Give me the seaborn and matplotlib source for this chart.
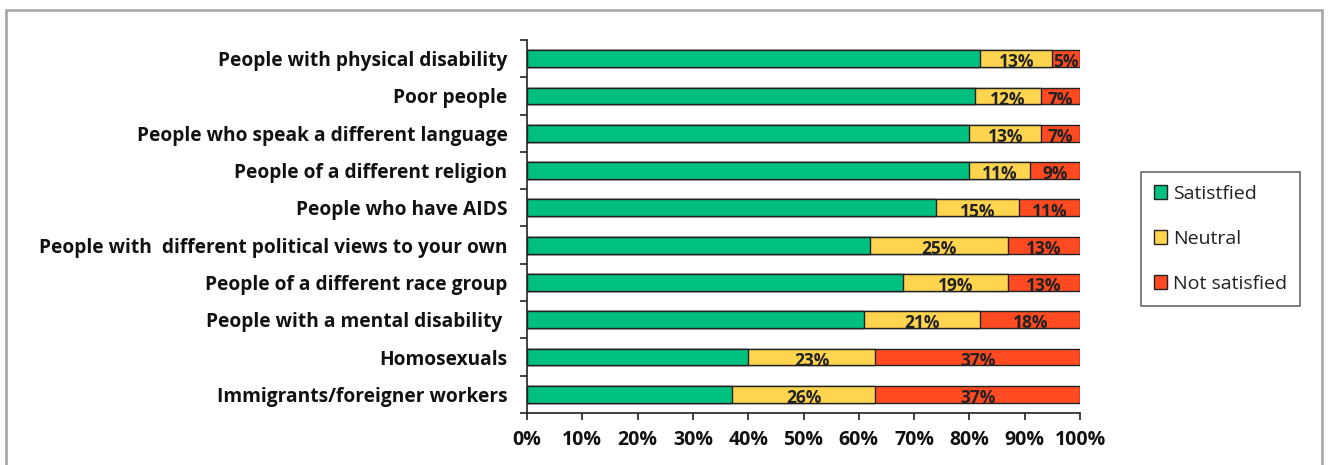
import matplotlib
matplotlib.use("Agg")
import matplotlib.pyplot as plt
import matplotlib.patches as mpatches
import matplotlib.lines as mlines
from matplotlib.ticker import FixedLocator, PercentFormatter
import numpy as np
import pandas as pd
import seaborn as sns

categories = [
    "People with physical disability",
    "Poor people",
    "People who speak a different language",
    "People of a different religion",
    "People who have AIDS",
    "People with  different political views to your own",
    "People of a different race group",
    "People with a mental disability ",
    "Homosexuals",
    "Immigrants/foreigner workers",
]
satisfied = [82, 81, 80, 80, 74, 62, 68, 61, 40, 37]
neutral = [13, 12, 13, 11, 15, 25, 19, 21, 23, 26]
not_satisfied = [5, 7, 7, 9, 11, 13, 13, 18, 37, 37]
series_names = ["Satistfied", "Neutral", "Not satisfied"]
colors = ["#00C07F", "#FFD44F", "#FF4A22"]

sns.set_style("white")
plt.rcParams["font.family"] = ["Open Sans", "DejaVu Sans"]

df = pd.DataFrame({"cat": categories, "s": satisfied, "n": neutral, "x": not_satisfied})
df["c1"] = df["s"]
df["c2"] = df["s"] + df["n"]
df["c3"] = df["s"] + df["n"] + df["x"]

fig = plt.figure(figsize=(13.29, 4.65), dpi=100)
ax = fig.add_axes([527 / 1329, 1 - 413 / 465, (1080 - 527) / 1329, (413 - 40) / 465])

bw = 0.45
for col, c in zip(["c3", "c2", "c1"], colors[::-1]):
    sns.barplot(data=df, x=col, y="cat", color=c, orient="h", width=bw,
                edgecolor="#222222", linewidth=1.0, ax=ax, saturation=1)

# labels on neutral and not satisfied segments
for i, row in df.iterrows():
    ax.text(row["s"] + row["n"] / 2, i + 0.1, f"{row['n']}%", ha="center", va="center",
            fontsize=12.5, fontweight="bold", color="#222222")
    ax.text(row["c2"] + row["x"] / 2, i + 0.1, f"{row['x']}%", ha="center", va="center",
            fontsize=12.5, fontweight="bold", color="#222222")

ax.set_xlim(0, 100)
ax.set_ylim(len(categories) - 0.5, -0.5)
ax.xaxis.set_major_locator(FixedLocator(np.arange(0, 101, 10)))
ax.xaxis.set_major_formatter(PercentFormatter(decimals=0))
ax.set_xlabel("")
ax.set_ylabel("")
for s in ["top", "right"]:
    ax.spines[s].set_visible(False)
for s in ["left", "bottom"]:
    ax.spines[s].set_color("#222222")
    ax.spines[s].set_linewidth(1.2)

ax.tick_params(axis="x", which="major", direction="out", length=5, width=1.2, color="#222222",
               labelsize=14, pad=7, bottom=True)
ax.tick_params(axis="y", which="major", length=0, pad=14, labelsize=13.8)
ax.yaxis.set_minor_locator(FixedLocator(np.arange(-0.5, len(categories), 1.0)))
ax.tick_params(axis="y", which="minor", direction="out", length=5, width=1.2, color="#222222", left=True)
for lab in ax.get_xticklabels() + ax.get_yticklabels():
    lab.set_fontweight("bold")
    lab.set_color("#111111")

handles = [mpatches.Patch(facecolor=c, edgecolor="#222222", linewidth=1.0, label=n)
           for c, n in zip(colors, series_names)]
leg = fig.legend(handles=handles, loc="upper left",
                 bbox_to_anchor=(1141 / 1329, 1 - 172 / 465), bbox_transform=fig.transFigure,
                 frameon=True, fancybox=False, fontsize=14, handlelength=0.7, handleheight=0.7,
                 handletextpad=0.3, labelspacing=1.4, borderpad=0.65, borderaxespad=0)
leg.get_frame().set_edgecolor("#444444")
leg.get_frame().set_linewidth(1.2)
for t in leg.get_texts():
    t.set_color("#222222")

# outer gray frame
border = dict(color="#AAAAAA", linewidth=2, transform=fig.transFigure)
fig.add_artist(mlines.Line2D([6 / 1329, 1322 / 1329], [1 - 10 / 465, 1 - 10 / 465], **border))
fig.add_artist(mlines.Line2D([6 / 1329, 6 / 1329], [0, 1 - 10 / 465], **border))
fig.add_artist(mlines.Line2D([1322 / 1329, 1322 / 1329], [0, 1 - 10 / 465], **border))

fig.savefig("out.png", dpi=100)
